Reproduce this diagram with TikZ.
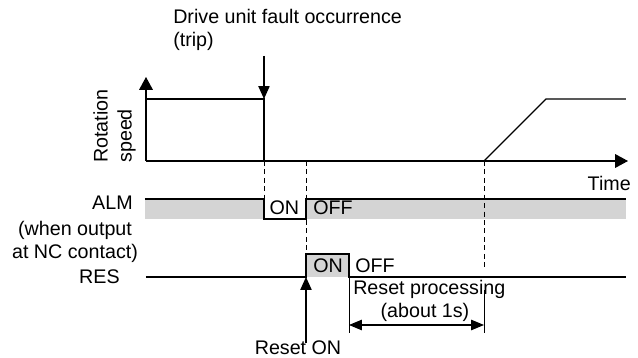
\documentclass[tikz,border=0pt]{standalone}
\usepackage{fontspec}
\setmainfont{Liberation Sans}
\usetikzlibrary{arrows.meta}
\definecolor{bandgray}{RGB}{212,212,212}

\begin{document}
\begin{tikzpicture}[
        every node/.style={font=\fontsize{14}{17}\selectfont, inner sep=0pt},
        sig/.style={line width=0.8pt},
        axis/.style={line width=0.8pt, -{Triangle[length=3.2mm,width=3.4mm]}},
        pointer/.style={line width=0.8pt, -{Triangle[length=3.2mm,width=2.8mm]}},
        guide/.style={line width=0.7pt, dash pattern=on 3.5pt off 2.5pt},
        tick/.style={line width=0.7pt},
        band/.style={fill=bandgray, draw=none},
        span/.style={line width=0.8pt,
            {Triangle[length=3.2mm,width=2.6mm]}-{Triangle[length=3.2mm,width=2.6mm]}}
    ]
    \useasboundingbox (-3.65,-4.925) rectangle (12.3,4.025);

    % Axes
    \coordinate (o) at (0,0);
    \coordinate (ytop) at (0,2.1);
    \coordinate (xend) at (12.05,0);
    \draw[axis] (o) -- (ytop);
    \draw[axis] (o) -- (xend);

    % Rotation speed
    \draw[sig] (0,1.55) -- (2.95,1.55) -- (2.95,0);
    \draw[sig] (8.45,0) -- (10.0,1.55) -- (12.0,1.55);

    % ALM signal
    \fill[band] (-0.03,-0.95) rectangle (2.95,-1.45);
    \fill[band] (4.0,-0.95) rectangle (12.0,-1.45);
    \draw[sig] (-0.03,-0.95) -- (2.95,-0.95) -- (2.95,-1.45) -- (4.0,-1.45)
        -- (4.0,-0.95) -- (12.0,-0.95);

    % RES signal
    \fill[band] (4.0,-2.325) rectangle (5.075,-2.9);
    \draw[sig] (0,-2.9) -- (4.0,-2.9) -- (4.0,-2.325) -- (5.075,-2.325)
        -- (5.075,-2.9) -- (12.0,-2.9);

    % Guide lines
    \draw[guide] (2.95,0) -- (2.95,-0.95);
    \draw[guide] (4.0,0) -- (4.0,-2.325);
    \draw[guide] (8.45,0) -- (8.45,-2.675);
    \draw[tick] (5.075,-2.9) -- (5.075,-4.3);
    \draw[tick] (8.45,-3.225) -- (8.45,-4.3);

    % Labels
    \node[anchor=base west, align=left] (fault) at (0.675,2.85)
        {Drive unit fault occurrence\\(trip)};
    \node[rotate=90, anchor=south west, align=left] (speed) at (-0.25,-0.05)
        {Rotation\\speed};
    \node[anchor=base east] (time) at (12.125,-0.75) {Time};
    \node[anchor=base east] (alm) at (-0.325,-1.225) {ALM};
    \node[anchor=base, align=center] (nc) at (-1.775,-2.45)
        {(when output\\at NC contact)};
    \node[anchor=base east] (res) at (-0.65,-3.075) {RES};
    \node[anchor=base] (almon) at (3.46,-1.35) {ON};
    \node[anchor=base west] (almoff) at (4.175,-1.35) {OFF};
    \node[anchor=base west] (reson) at (4.175,-2.8) {ON};
    \node[anchor=base west] (resoff) at (5.225,-2.8) {OFF};
    \node[anchor=base west] (proc) at (5.175,-3.35) {Reset processing};
    \node[anchor=base] (about) at (6.975,-3.925) {(about 1s)};
    \node[anchor=base] (rst) at (3.8,-4.85) {Reset ON};

    % Arrows
    \coordinate (trip) at (2.95,2.625);
    \coordinate (stop) at (2.95,1.55);
    \draw[pointer] (trip) -- (stop);
    \coordinate (rstfoot) at (4.0,-4.55);
    \coordinate (rstedge) at (4.0,-2.9);
    \draw[pointer] (rstfoot) -- (rstedge);
    \coordinate (procA) at (5.075,-4.1);
    \coordinate (procB) at (8.45,-4.1);
    \draw[span] (procA) -- (procB);

\end{tikzpicture}
\end{document}
